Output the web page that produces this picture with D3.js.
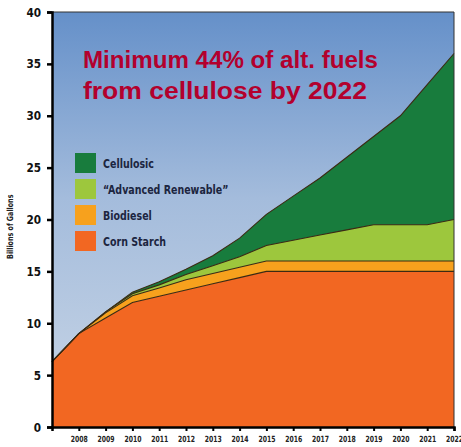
<!DOCTYPE html>
<html>
<head>
<meta charset="utf-8">
<script src="https://cdn.jsdelivr.net/npm/d3@7"></script>
<style>
  body { margin: 0; background: #fff; }
  svg { display: block; }
</style>
</head>
<body>
<div id="chart"></div>
<script>
// datos (miles de millones de galones)
const years = [2007, 2008, 2009, 2010, 2011, 2012, 2013, 2014, 2015, 2016, 2017, 2018, 2019, 2020, 2021, 2022];
const cornStarch = [6.3, 9.0, 10.5, 12.0, 12.6, 13.2, 13.8, 14.4, 15, 15, 15, 15, 15, 15, 15, 15];
const biodiesel = [0, 0, 0.5, 0.65, 0.8, 1.0, 1.0, 1.0, 1.0, 1.0, 1.0, 1.0, 1.0, 1.0, 1.0, 1.0];
const advanced = [0, 0, 0.1, 0.2, 0.3, 0.5, 0.75, 1.0, 1.5, 2.0, 2.5, 3.0, 3.5, 3.5, 3.5, 4.0];
const cellulosic = [0, 0, 0, 0.15, 0.3, 0.5, 0.95, 1.8, 3.0, 4.25, 5.5, 7.0, 8.5, 10.5, 13.5, 16.0];

const seriesNames = ['Corn Starch', 'Biodiesel', '\u201cAdvanced Renewable\u201d', 'Cellulosic'];
const seriesColors = ['#f26722', '#f7a11d', '#9dc73d', '#187c3d'];
const yTicks = [0, 5, 10, 15, 20, 25, 30, 35, 40];
const xTickYears = years.slice(1);

const width = 461, height = 447;
const margin = { top: 12, right: 7, bottom: 20, left: 52 };

const svg = d3.select('#chart').append('svg')
  .attr('width', width)
  .attr('height', height);

const x = d3.scaleLinear()
  .domain([2007, 2022])
  .range([margin.left, width - margin.right]);

const y = d3.scaleLinear()
  .domain([0, 40])
  .range([height - margin.bottom, margin.top]);

// fondo tipo cielo
const defs = svg.append('defs');
const grad = defs.append('linearGradient')
  .attr('id', 'cielo')
  .attr('x1', 0).attr('y1', 0).attr('x2', 0).attr('y2', 1);
grad.append('stop').attr('offset', '0%').attr('stop-color', '#6590c9');
grad.append('stop').attr('offset', '45%').attr('stop-color', '#a4bcdc');
grad.append('stop').attr('offset', '100%').attr('stop-color', '#c9d6e6');

svg.append('rect')
  .attr('x', x(2007))
  .attr('y', y(40))
  .attr('width', x(2022) - x(2007))
  .attr('height', y(0) - y(40))
  .attr('fill', 'url(#cielo)');

const table = years.map((yr, i) => ({
  year: yr,
  s0: cornStarch[i],
  s1: biodiesel[i],
  s2: advanced[i],
  s3: cellulosic[i]
}));

const stack = d3.stack().keys(['s0', 's1', 's2', 's3']);
const layers = stack(table);

const area = d3.area()
  .x(d => x(d.data.year))
  .y0(d => y(d[0]))
  .y1(d => y(d[1]));

const line = d3.line()
  .x(d => x(d.data.year))
  .y(d => y(d[1]));

svg.append('g')
  .selectAll('path')
  .data(layers)
  .join('path')
  .attr('d', area)
  .attr('fill', (d, i) => seriesColors[i]);

svg.append('g')
  .selectAll('path')
  .data(layers)
  .join('path')
  .attr('d', line)
  .attr('fill', 'none')
  .attr('stroke', '#3b2a12')
  .attr('stroke-width', 1.1);

// marco
svg.append('path')
  .attr('d', `M${x(2007)},${y(40)}H${x(2022)}V${y(0)}`)
  .attr('fill', 'none')
  .attr('stroke', '#333')
  .attr('stroke-width', 1);

const fuente = '"DejaVu Sans", sans-serif';

// ejes
const yAxis = svg.append('g')
  .attr('transform', `translate(${margin.left},0)`)
  .call(d3.axisLeft(y).tickValues(yTicks).tickSize(5).tickPadding(6));
yAxis.select('.domain').attr('stroke', '#000').attr('stroke-width', 2.5);
yAxis.selectAll('.tick line').attr('stroke', '#000').attr('stroke-width', 2.5);
yAxis.selectAll('text')
  .attr('x', -13)
  .attr('transform', 'scale(0.84,1)')
  .style('font-family', fuente)
  .style('font-weight', 'bold')
  .style('font-size', '12.5px')
  .attr('fill', '#111');

const xAxis = svg.append('g')
  .attr('transform', `translate(0,${height - margin.bottom})`)
  .call(d3.axisBottom(x).tickValues(xTickYears).tickFormat(d3.format('d')).tickSize(4).tickPadding(5));
xAxis.select('.domain').attr('stroke', '#000').attr('stroke-width', 2.5);
xAxis.selectAll('.tick line').attr('stroke', '#000').attr('stroke-width', 2);
xAxis.selectAll('text')
  .attr('transform', 'scale(0.72,1)')
  .style('font-family', fuente)
  .style('font-weight', 'bold')
  .style('font-size', '8.5px')
  .attr('fill', '#222');

svg.append('text')
  .attr('transform', `translate(13,${y(19.3)}) rotate(-90) scale(0.75,1)`)
  .attr('text-anchor', 'middle')
  .style('font-family', fuente)
  .style('font-weight', 'bold')
  .style('font-size', '8.5px')
  .attr('fill', '#222')
  .text('Billions of Gallons');

// titulo
const titulo = svg.append('text')
  .style('font-family', '"Liberation Sans", Arial, sans-serif')
  .style('font-weight', 'bold')
  .style('font-size', '24px')
  .attr('fill', '#b3002d');
titulo.append('tspan').attr('x', 83).attr('y', 68)
  .attr('textLength', 295).attr('lengthAdjust', 'spacingAndGlyphs')
  .text('Minimum 44% of alt. fuels');
titulo.append('tspan').attr('x', 83).attr('y', 99)
  .attr('textLength', 284).attr('lengthAdjust', 'spacingAndGlyphs')
  .text('from cellulose by 2022');

// leyenda
const leyenda = svg.append('g').attr('transform', 'translate(75,153)');
const orden = [3, 2, 1, 0];
orden.forEach((s, i) => {
  const g = leyenda.append('g').attr('transform', `translate(0,${i * 26})`);
  g.append('rect')
    .attr('width', 21)
    .attr('height', 20)
    .attr('fill', seriesColors[s]);
  g.append('text')
    .attr('transform', 'translate(28,15) scale(0.76,1)')
    .style('font-family', fuente)
    .style('font-weight', 'bold')
    .style('font-size', '12.5px')
    .attr('fill', '#1c2540')
    .text(seriesNames[s]);
});
</script>
</body>
</html>
